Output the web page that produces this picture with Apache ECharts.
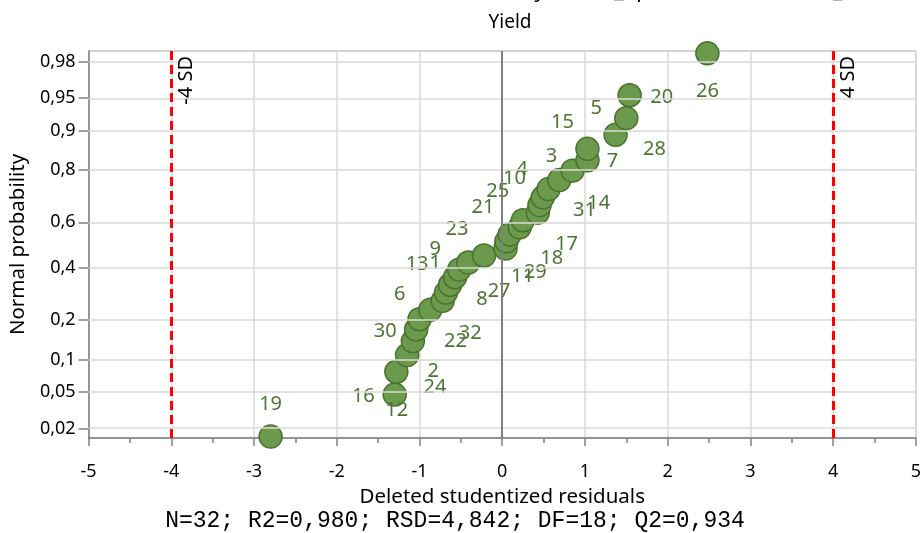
<!DOCTYPE html>
<html>
<head>
<meta charset="utf-8">
<script src="https://cdn.jsdelivr.net/npm/echarts@6/dist/echarts.min.js"></script>
<style>
  html, body { margin: 0; padding: 0; background: #ffffff; }
  #chart { width: 924px; height: 533px; }
</style>
</head>
<body>
<div id="chart"></div>
<script>
// Run numbers, ordered by rank of the deleted studentized residual
const runLabels = [19, 12, 16, 2, 24, 30, 22, 32, 6, 8, 27, 13, 1, 9, 23, 11,
                   29, 18, 17, 21, 25, 31, 14, 10, 4, 3, 7, 15, 28, 5, 20, 26];

// Deleted studentized residuals (x)
const residuals = [-2.80, -1.30, -1.28, -1.15, -1.08, -1.04, -1.00, -0.87, -0.72, -0.68, -0.63,
                   -0.57, -0.52, -0.41, -0.22, 0.04, 0.05, 0.09, 0.21, 0.25, 0.43, 0.45,
                   0.49, 0.56, 0.69, 0.85, 1.03, 1.03, 1.37, 1.50, 1.54, 2.48];

// Normal probability of each ranked residual (y)
const probabilities = [0.016, 0.047, 0.078, 0.109, 0.141, 0.172, 0.203, 0.234, 0.266, 0.297, 0.328,
                       0.359, 0.391, 0.422, 0.453, 0.484, 0.516, 0.547, 0.578, 0.609, 0.641, 0.672,
                       0.703, 0.734, 0.766, 0.797, 0.828, 0.859, 0.891, 0.922, 0.953, 0.984];

// Probability axis ticks
const probTicks = [0.02, 0.05, 0.1, 0.2, 0.4, 0.6, 0.8, 0.9, 0.95, 0.98];
const probTickLabels = ['0,02', '0,05', '0,1', '0,2', '0,4', '0,6', '0,8', '0,9', '0,95', '0,98'];

// Residual limits drawn as dashed lines
const sdLimits = [-4, 4];
const sdLabels = ['-4 SD', '4 SD'];

const titleText = 'N-Plot of Deleted Residuals: Assay in DoE_optimization 3 model_2(MLR)';
const subtitleText = 'Yield';
const footerText = 'N=32; R2=0,980; RSD=4,842; DF=18; Q2=0,934';

// Label placement around each point (pixels), so run numbers stay readable
const labelOffsets = [[0, -32], [2, 16], [-33, 25], [26, 16], [22, 46], [-31, 2], [36, 22], [40, 23],
  [-43, -7], [36, 7], [49, 7], [-38, -13], [-24, -6], [-33, -13], [-27, -26], [17, 28],
  [29, 31], [42, 24], [47, 17], [-40, -13], [-40, -21], [45, 5], [56, 6], [-34, -11],
  [-37, -11], [-21, -14], [25, 1], [-25, -26], [39, 14], [-30, -10], [32, 2], [0, 38]];

// Inverse of the standard normal CDF (probit scale for the y axis)
function probit(p) {
  const a = [-3.969683028665376e+01, 2.209460984245205e+02, -2.759285104469687e+02,
             1.383577518672690e+02, -3.066479806614716e+01, 2.506628277459239e+00];
  const b = [-5.447609879822406e+01, 1.615858368580409e+02, -1.556989798598866e+02,
             6.680131188771972e+01, -1.328068155288572e+01];
  const c = [-7.784894002430293e-03, -3.223964580411365e-01, -2.400758277161838e+00,
             -2.549671664254669e+00, 4.374664141464968e+00, 2.938163982698783e+00];
  const d = [7.784695709041462e-03, 3.224671290700398e-01, 2.445134137142996e+00,
             3.754408661907416e+00];
  const pl = 0.02425, ph = 1 - pl;
  let q, r;
  if (p < pl) {
    q = Math.sqrt(-2 * Math.log(p));
    return (((((c[0]*q+c[1])*q+c[2])*q+c[3])*q+c[4])*q+c[5]) / ((((d[0]*q+d[1])*q+d[2])*q+d[3])*q+1);
  }
  if (p > ph) {
    q = Math.sqrt(-2 * Math.log(1 - p));
    return -(((((c[0]*q+c[1])*q+c[2])*q+c[3])*q+c[4])*q+c[5]) / ((((d[0]*q+d[1])*q+d[2])*q+d[3])*q+1);
  }
  q = p - 0.5; r = q * q;
  return (((((a[0]*r+a[1])*r+a[2])*r+a[3])*r+a[4])*r+a[5])*q / (((((b[0]*r+b[1])*r+b[2])*r+b[3])*r+b[4])*r+1);
}

const tickZ = probTicks.map(probit);
function tickLabelFor(v) {
  for (let i = 0; i < tickZ.length; i++) {
    if (Math.abs(tickZ[i] - v) < 1e-6) return probTickLabels[i];
  }
  return '';
}

const FONT = 'Noto Sans';
const pointData = residuals.map((x, i) => ({
  value: [x, probit(probabilities[i])],
  name: String(runLabels[i]),
  label: { offset: labelOffsets[i] }
}));

const chart = echarts.init(document.getElementById('chart'), null, { renderer: 'canvas' });

chart.setOption({
  animation: false,
  backgroundColor: '#ffffff',
  textStyle: { fontFamily: FONT },
  graphic: [
    { type: 'text', x: 910, y: 2,
      style: { text: titleText, font: '21px "Noto Sans"', fill: '#000000', align: 'right', verticalAlign: 'bottom' } },
    { type: 'text', x: 510, y: 23,
      style: { text: subtitleText, font: '19px "Noto Sans"', fill: '#000000', align: 'center', verticalAlign: 'middle' } },
    { type: 'text', x: 455, y: 521,
      style: { text: footerText, font: '23px "Liberation Mono"', fill: '#000000', align: 'center', verticalAlign: 'middle' } }
  ],
  grid: {
    left: 88, right: 7, top: 51, bottom: 95,
    show: true, borderColor: '#a6a6a6', borderWidth: 1
  },
  xAxis: {
    type: 'value', min: -5, max: 5, interval: 1,
    name: 'Deleted studentized residuals', nameLocation: 'middle', nameGap: 49,
    nameTextStyle: { fontSize: 20.5, color: '#000000', fontFamily: FONT },
    axisLine: { show: true, onZero: false, lineStyle: { color: '#808080', width: 1.5 } },
    axisTick: { show: true, inside: false, length: 8, lineStyle: { color: '#808080', width: 1.5 } },
    minorTick: { show: true, splitNumber: 2, length: 5, lineStyle: { color: '#808080', width: 1.5 } },
    axisLabel: { fontSize: 18, color: '#000000', margin: 25, fontFamily: FONT },
    splitLine: { show: true, lineStyle: { color: '#dadada', width: 1.5 } }
  },
  yAxis: {
    type: 'value', min: -2.16, max: 2.17,
    name: 'Normal probability', nameLocation: 'middle', nameGap: 56, nameRotate: 90,
    nameTextStyle: { fontSize: 20.5, color: '#000000', fontFamily: FONT },
    axisLine: { show: true, onZero: false, lineStyle: { color: '#808080', width: 1.5 } },
    axisTick: { show: true, inside: false, length: 10, customValues: tickZ,
                lineStyle: { color: '#808080', width: 1.5 } },
    axisLabel: { fontSize: 18, color: '#000000', margin: 13, customValues: tickZ,
                 fontFamily: FONT, formatter: tickLabelFor },
    splitLine: { show: false }
  },
  series: [
    {
      // reference lines: probability grid, zero line and +/-4 SD limits
      type: 'line', data: [], z: 1, silent: true,
      markLine: {
        silent: true, symbol: ['none', 'none'], animation: false,
        label: { show: false },
        data: [
          ...tickZ.map(z => ({ yAxis: z, lineStyle: { color: '#dadada', width: 1.5, type: 'solid' } })),
          { xAxis: 0, lineStyle: { color: '#7f7f7f', width: 2, type: 'solid' } },
          ...sdLimits.map((v, i) => ({
            xAxis: v,
            lineStyle: { color: '#ff0000', width: 3, type: [9, 5] },
            label: {
              show: true, position: 'insideEndBottom', formatter: sdLabels[i],
              fontSize: 20, color: '#000000', fontFamily: FONT, distance: [5, 5]
            }
          }))
        ]
      }
    },
    {
      type: 'scatter', z: 3,
      symbol: 'circle', symbolSize: 23,
      itemStyle: { color: '#6b9a4c', borderColor: '#48712e', borderWidth: 1.5, opacity: 1 },
      label: {
        show: true, position: 'inside', formatter: p => p.name,
        fontSize: 20, color: '#4d7433', fontFamily: FONT
      },
      data: pointData
    }
  ]
});
</script>
</body>
</html>
